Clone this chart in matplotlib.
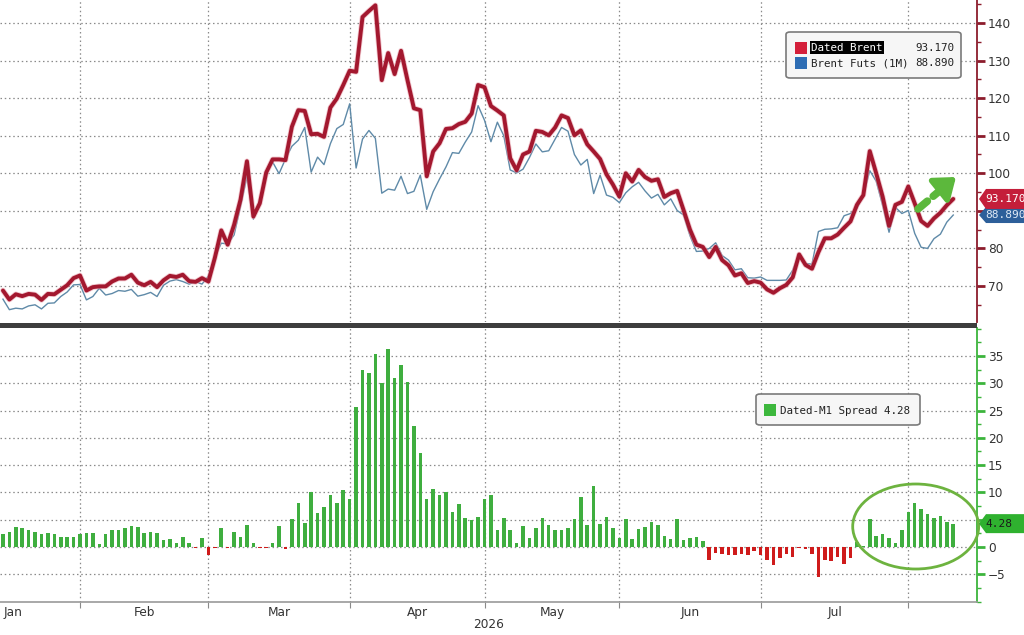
import numpy as np
import pandas as pd
import matplotlib
matplotlib.use("Agg")
import matplotlib.pyplot as plt
from matplotlib.patches import Polygon, FancyBboxPatch, Rectangle, Ellipse
from matplotlib.transforms import IdentityTransform
import matplotlib.patheffects as pe
from matplotlib.ticker import MultipleLocator

# ---------------- data ----------------
start_date = "2026-01-15"
holidays = ["2026-01-01", "2026-04-03"]
month_labels = ["Jan", "Feb", "Mar", "Apr", "May", "Jun", "Jul"]
year_label = "2026"

dated_brent = [
    68.8, 66.4, 67.8, 67.3, 67.9, 67.7, 66.3, 67.9, 67.8, 69.0,
    70.2, 72.1, 72.8, 68.8, 69.7, 69.9, 69.9, 71.2, 72.0, 72.0,
    73.0, 70.9, 70.2, 71.1, 69.7, 71.5, 72.7, 72.4, 73.0, 71.3,
    71.1, 72.1, 71.2, 77.5, 84.8, 81.0, 86.3, 93.0, 103.2, 88.5,
    92.0, 100.2, 103.7, 103.7, 103.5, 112.4, 116.8, 116.6, 110.4, 110.5,
    109.7, 117.5, 119.9, 123.5, 127.3, 127.0, 141.6, 143.2, 144.7, 124.8,
    132.0, 126.4, 132.6, 124.8, 117.3, 116.8, 99.2, 105.8, 108.0, 111.8,
    112.0, 113.1, 113.7, 115.9, 123.5, 122.9, 117.9, 116.7, 115.4, 104.0,
    100.8, 105.0, 105.8, 111.3, 111.0, 110.1, 112.2, 115.4, 114.7, 110.1,
    111.4, 107.7, 105.8, 103.8, 99.7, 97.0, 93.8, 100.0, 97.8, 100.9,
    99.0, 98.0, 98.4, 93.7, 94.7, 95.3, 90.2, 85.0, 81.0, 80.4,
    77.7, 80.4, 76.9, 75.5, 72.8, 73.4, 70.8, 71.3, 70.9, 69.1,
    68.2, 69.4, 70.3, 72.3, 78.4, 75.6, 74.6, 79.0, 82.7, 82.7,
    83.7, 85.5, 87.2, 91.6, 94.2, 105.9, 100.0, 93.8, 86.0, 91.6,
    92.4, 96.5, 92.0, 87.3, 86.0, 88.0, 89.5, 91.5, 93.17,
]

brent_futs = [
    66.5, 63.7, 64.1, 63.9, 64.7, 65.0, 63.9, 65.4, 65.5, 67.2,
    68.4, 70.3, 70.4, 66.3, 67.2, 69.4, 67.6, 68.0, 68.8, 68.6,
    69.1, 67.3, 67.7, 68.3, 67.2, 70.2, 71.3, 71.7, 71.2, 70.5,
    71.2, 70.5, 72.7, 77.6, 81.4, 81.2, 83.6, 91.2, 99.1, 87.8,
    92.2, 100.4, 103.0, 99.9, 103.8, 107.2, 108.8, 112.2, 100.3, 104.3,
    102.3, 107.9, 111.9, 113.0, 118.5, 101.4, 109.1, 111.4, 109.3, 94.7,
    95.8, 95.5, 99.2, 94.6, 95.2, 99.5, 90.4, 95.1, 98.5, 101.7,
    105.5, 105.3, 108.3, 111.0, 118.0, 114.1, 108.4, 113.6, 110.0, 100.9,
    100.1, 101.1, 104.2, 107.8, 105.7, 106.0, 109.1, 112.2, 111.2, 105.0,
    102.2, 103.7, 94.6, 99.5, 94.2, 93.6, 92.2, 94.8, 96.4, 97.6,
    95.3, 93.4, 94.4, 91.6, 93.2, 90.1, 88.9, 83.4, 79.2, 79.3,
    80.0, 81.5, 78.1, 76.9, 74.3, 74.6, 72.2, 72.1, 72.4, 71.5,
    71.5, 71.5, 71.6, 74.2, 78.6, 76.0, 75.8, 84.5, 85.1, 85.2,
    85.5, 88.7, 89.3, 90.7, 94.1, 100.7, 97.9, 91.5, 84.3, 90.9,
    89.3, 90.1, 84.0, 80.3, 80.0, 82.6, 83.8, 87.0, 88.89,
]

spread = [
    2.3, 2.7, 3.7, 3.4, 3.2, 2.7, 2.4, 2.5, 2.3, 1.8,
    1.8, 1.8, 2.4, 2.5, 2.5, 0.5, 2.3, 3.2, 3.2, 3.4,
    3.9, 3.6, 2.5, 2.8, 2.5, 1.3, 1.4, 0.7, 1.8, 0.8,
    -0.1, 1.6, -1.5, -0.1, 3.4, -0.2, 2.7, 1.8, 4.1, 0.7,
    -0.2, -0.2, 0.7, 3.8, -0.3, 5.2, 8.0, 4.4, 10.1, 6.2,
    7.4, 9.6, 8.0, 10.5, 8.8, 25.6, 32.5, 31.8, 35.4, 30.1,
    36.2, 30.9, 33.4, 30.2, 22.1, 17.3, 8.8, 10.7, 9.5, 10.1,
    6.5, 7.8, 5.4, 4.9, 5.5, 8.8, 9.5, 3.1, 5.4, 3.1,
    0.7, 3.9, 1.6, 3.5, 5.3, 4.1, 3.1, 3.2, 3.5, 5.1,
    9.2, 4.0, 11.2, 4.3, 5.5, 3.4, 1.6, 5.2, 1.4, 3.3,
    3.7, 4.6, 4.0, 2.1, 1.5, 5.2, 1.3, 1.6, 1.8, 1.1,
    -2.3, -1.1, -1.2, -1.4, -1.5, -1.2, -1.4, -0.8, -1.5, -2.4,
    -3.3, -2.1, -1.3, -1.9, -0.2, -0.4, -1.2, -5.5, -2.4, -2.5,
    -1.8, -3.2, -2.1, 0.9, 0.1, 5.2, 2.1, 2.3, 1.7, 0.7,
    3.1, 6.4, 8.0, 7.0, 6.0, 5.4, 5.7, 4.5, 4.28,
]

# ---------------- calendar / positions ----------------
cal = pd.bdate_range("2026-01-01", "2026-08-31", freq="C", holidays=holidays)
offset = int(np.searchsorted(cal, pd.Timestamp(start_date)))
n = len(dated_brent)
x = np.arange(n)
full_pos = np.arange(len(cal)) - offset
months = np.asarray(cal.month)
month_starts = [int(full_pos[np.argmax(months == m)]) for m in range(1, 9)]
month_centers = [(month_starts[i] + month_starts[i + 1]) / 2 for i in range(7)]

# ---------------- figure ----------------
W, H = 1024, 635
fig = plt.figure(figsize=(W / 100, H / 100), dpi=100)
fig.patch.set_facecolor("white")

def fx(px):
    return px / W

def fy(py):
    return 1 - py / H

AX_R = 977
ax1 = fig.add_axes([0, fy(322), fx(AX_R), 322 / H])
ax2 = fig.add_axes([0, fy(602), fx(AX_R), (602 - 328) / H])

xlim = (-0.46, 151.7)
TXT = "#333333"
RED_AX = "#8c1c2c"
GRN_AX = "#3cb43c"
GRID = dict(color="#8a8a8a", linestyle=(0, (1.2, 2.2)), linewidth=0.9)

# ---- top panel ----
ax1.plot(x, brent_futs, color="#5f8aa8", lw=1.0, zorder=3, solid_joinstyle="round")
ax1.plot(x, dated_brent, color="#a3182f", lw=2.8, zorder=4,
         solid_joinstyle="round", solid_capstyle="round",
         path_effects=[pe.Stroke(linewidth=4.0, foreground="#e79aa6", alpha=0.55,
                                 joinstyle="round", capstyle="round"), pe.Normal()])
ax1.set_xlim(*xlim)
ax1.set_ylim(60.42, 146.12)
ax1.set_xticks([s for s in month_starts if xlim[0] < s < xlim[1]])
ax1.tick_params(axis="x", length=0, labelbottom=False)
ax1.set_yticks(np.arange(70, 141, 10))
ax1.yaxis.set_minor_locator(MultipleLocator(5))
ax1.yaxis.tick_right()
ax1.tick_params(axis="y", which="major", direction="out", length=6, width=2, color=RED_AX,
                labelcolor=TXT, labelsize=8.7, pad=2)
ax1.tick_params(axis="y", which="minor", direction="out", length=3, width=1, color=RED_AX)
for s in ["left", "top", "bottom"]:
    ax1.spines[s].set_visible(False)
ax1.spines["right"].set_color(RED_AX)
ax1.spines["right"].set_linewidth(1.3)
ax1.grid(True, which="major", **GRID)
ax1.set_axisbelow(True)

# ---- bottom panel ----
vals = np.array(spread)
colors = np.where(vals >= 0, "#3fae3f", "#cf1b1b")
ax2.bar(x, vals, width=0.55, color=colors, zorder=3)
ax2.set_xlim(*xlim)
ax2.set_ylim(-10.08, 40.13)
ax2.set_xticks([s for s in month_starts if xlim[0] < s < xlim[1]])
ax2.set_xticks(month_centers, month_labels, minor=True)
ax2.tick_params(axis="x", which="major", length=4, color="#8a8a8a", labelbottom=False)
ax2.tick_params(axis="x", which="minor", length=0, labelsize=8.7, labelcolor=TXT, pad=3)
ax2.set_yticks(np.arange(-5, 40, 5))
ax2.yaxis.set_minor_locator(MultipleLocator(2.5))
ax2.yaxis.tick_right()
ax2.tick_params(axis="y", which="major", direction="out", length=6, width=2, color=GRN_AX,
                labelcolor=TXT, labelsize=8.7, pad=2)
ax2.tick_params(axis="y", which="minor", direction="out", length=3, width=1, color=GRN_AX)
for s in ["left", "top"]:
    ax2.spines[s].set_visible(False)
ax2.spines["right"].set_color(GRN_AX)
ax2.spines["right"].set_linewidth(1.3)
ax2.spines["bottom"].set_color("#9a9a9a")
ax2.spines["bottom"].set_linewidth(1.2)
ax2.grid(True, which="major", **GRID)
ax2.set_axisbelow(True)
ax2.text(month_starts[4] + 0.6, -0.083, year_label, transform=ax2.get_xaxis_transform(),
         ha="center", va="center", fontsize=8.7, color=TXT)

# tick labels that sit underneath the last-value tags are hidden (as in the original)
fig.canvas.draw()
for lab in ax1.get_yticklabels():
    if lab.get_text() in ("90",):
        lab.set_visible(False)
for lab in ax2.get_yticklabels():
    if lab.get_text() in ("5",):
        lab.set_visible(False)

# separator band
fig.add_artist(Rectangle((0, fy(327.5)), fx(AX_R), 5 / H, transform=fig.transFigure,
                         facecolor="#3d3d3d", edgecolor="none"))

# ---- legends ----
MONO = "DejaVu Sans Mono"

def box(x0, y0, x1, y1):
    fig.add_artist(FancyBboxPatch((fx(x0), fy(y1)), fx(x1 - x0), (y1 - y0) / H,
                                  boxstyle="round,pad=0,rounding_size=0.004",
                                  transform=fig.transFigure, facecolor="#f6f6f6",
                                  edgecolor="#7a7a7a", linewidth=1.2, zorder=10))

def square(x0, y0, size, color):
    fig.add_artist(Rectangle((fx(x0), fy(y0 + size)), fx(size), size / H,
                             transform=fig.transFigure, facecolor=color,
                             edgecolor="none", zorder=11))

box(786, 32, 961, 78)
square(795, 41.5, 12, "#d41f3a")
square(795, 57, 12, "#2e6db4")
fig.text(fx(811), fy(47.7), "Dated Brent", family=MONO, fontsize=7.8, color="white",
         va="center", ha="left", zorder=12,
         bbox=dict(boxstyle="square,pad=0.12", facecolor="black", edgecolor="none"))
fig.text(fx(954), fy(47.7), f"{dated_brent[-1]:.3f}", family=MONO, fontsize=7.8,
         color="#222222", va="center", ha="right", zorder=12)
fig.text(fx(811), fy(63.3), "Brent Futs (1M)", family=MONO, fontsize=7.8,
         color="#222222", va="center", ha="left", zorder=12)
fig.text(fx(954), fy(63.3), f"{brent_futs[-1]:.3f}", family=MONO, fontsize=7.8,
         color="#222222", va="center", ha="right", zorder=12)

box(756, 394, 920, 425)
square(764, 404, 11.5, "#3db83d")
fig.text(fx(780), fy(410.5), f"Dated-M1 Spread {spread[-1]:.2f}", family=MONO, fontsize=7.8,
         color="#222222", va="center", ha="left", zorder=12)

# ---- last value tags ----
def tag(ax, val, text, fc, tc, h):
    yd = ax.transData.transform((0, val))[1]
    x0 = 979
    pts = [(x0, yd), (x0 + 7, yd + h / 2), (1040, yd + h / 2), (1040, yd - h / 2), (x0 + 7, yd - h / 2)]
    fig.add_artist(Polygon(pts, closed=True, transform=IdentityTransform(),
                           facecolor=fc, edgecolor="none", zorder=20))
    fig.text((x0 + 6) / W, yd / H, text, family=MONO, fontsize=8, color=tc,
             va="center", ha="left", zorder=21)

tag(ax1, brent_futs[-1], f"{brent_futs[-1]:.3f}", "#2d5f9a", "#dfe9f5", 16)
tag(ax1, dated_brent[-1], f"{dated_brent[-1]:.3f}", "#c41e3a", "white", 20)
tag(ax2, spread[-1], f"{spread[-1]:.2f}", "#2fb12f", "#1a1a1a", 19)

# ---- annotations: green arrow and ellipse ----
G = "#5cb83c"
xs, ys = 918 / AX_R, (322 - 209) / 322
xm, ym = 943 / AX_R, (322 - 188) / 322
xe, ye = 956 / AX_R, (322 - 177) / 322
ax1.plot([xs, xm], [ys, ym], transform=ax1.transAxes, color=G, lw=5.5,
         linestyle=(0, (1.6, 1.0)), dash_capstyle="round", clip_on=False, zorder=6)
ax1.annotate("", xy=(xe, ye), xytext=(xm - 0.004, ym - 0.008), xycoords="axes fraction",
             arrowprops=dict(arrowstyle="-|>,head_length=0.8,head_width=0.6",
                             color=G, lw=4, mutation_scale=15, shrinkA=0, shrinkB=0),
             zorder=6)

ax2.add_patch(Ellipse((915.7 / AX_R, (602 - 526.5) / 274), 126 / AX_R, 85 / 274,
                      transform=ax2.transAxes, fill=False, edgecolor="#6db33f",
                      lw=2, clip_on=False, zorder=6))

fig.savefig("out.png", dpi=100)
